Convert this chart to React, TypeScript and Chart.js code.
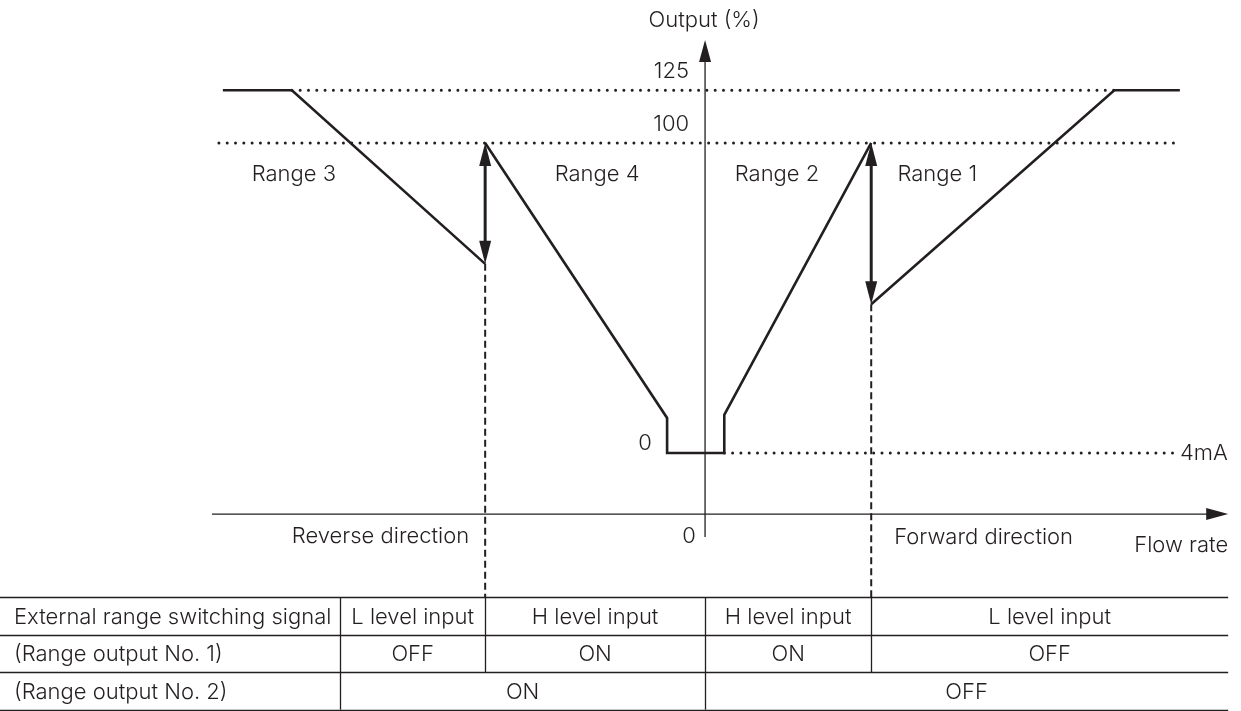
import React, { useEffect, useRef } from "react";
import { Chart, registerables } from "chart.js";

Chart.register(...registerables);

// ---- data (flow rate in schematic units, output in schematic %) ----
const range3Flow = [-97.8, -83.8, -44.6];
const range3Output = [117, 117, 61];
const range42Flow = [-44.6, -7.7, -7.7, 3.9, 3.9, 33.7];
const range42Output = [100, 11.3, 0, 0, 12.3, 100];
const range1Flow = [33.7, 83.0, 96.3];
const range1Output = [48, 117, 117];

// dotted reference levels (drawn positions) and their tick labels
const levelOutput = [117, 100, 0];
const levelTickLabels = ["125", "100", "0"];
const levelStartFlow = [-83.8, -98.6, 3.9];
const levelEndFlow = [83.0, 95.7, 95.7];

// range switching points
const switchFlow = [-44.6, 33.7];
const switchLowOutput = [61, 48];
const switchHighOutput = [100, 100];
const tableTopOutput = -46.5;

const rangeNames = ["Range 3", "Range 4", "Range 2", "Range 1"];
const rangeNameFlow = [-83.4, -21.9, 14.6, 47.1];
const rangeNameOutput = 90;

// table
const tableRowLabels = [
  "External range switching signal",
  "(Range output No. 1)",
  "(Range output No. 2)",
];
const switchSignal = ["L level input", "H level input", "H level input", "L level input"];
const rangeOutputNo1 = ["OFF", "ON", "ON", "OFF"];
const rangeOutputNo2 = ["ON", "OFF"];
const colBoundsFlow = [-74.0, -44.6, 0, 33.7, 106.1];
const row3BoundsFlow = [-74.0, 0, 106.1];

const INK = "#231f20";
const FONT = '300 22px Inter, "Liberation Sans", Arial, sans-serif';

function arrowHead(ctx: CanvasRenderingContext2D, tx: number, ty: number, dx: number, dy: number, len: number, hw: number) {
  const bx = tx - dx * len;
  const by = ty - dy * len;
  const px = -dy;
  const py = dx;
  ctx.beginPath();
  ctx.moveTo(tx, ty);
  ctx.lineTo(bx + px * hw, by + py * hw);
  ctx.lineTo(bx - px * hw, by - py * hw);
  ctx.closePath();
  ctx.fill();
}

const toPts = (xs: number[], ys: number[]) => xs.map((x, i) => ({ x, y: ys[i] }));

export default function App() {
  const ref = useRef<HTMLCanvasElement>(null);

  useEffect(() => {
    document.body.style.margin = "0";
    const canvas = ref.current!;

    const diagram = {
      id: "diagram",
      beforeDatasetsDraw(chart: any) {
        const ctx: CanvasRenderingContext2D = chart.ctx;
        const xs = chart.scales.x;
        const ys = chart.scales.y;
        ctx.save();
        ctx.strokeStyle = INK;
        ctx.fillStyle = INK;
        ctx.lineWidth = 1.3;
        // x axis
        const axY = ys.getPixelForValue(-19.7);
        const axL = xs.getPixelForValue(-100);
        const axR = xs.getPixelForValue(106.1);
        ctx.beginPath();
        ctx.moveTo(axL, axY);
        ctx.lineTo(axR - 10, axY);
        ctx.stroke();
        arrowHead(ctx, axR, axY, 1, 0, 22, 6);
        // y axis
        const x0 = xs.getPixelForValue(0);
        const yTop = ys.getPixelForValue(133.2);
        const yBot = ys.getPixelForValue(-27.1);
        ctx.beginPath();
        ctx.moveTo(x0, yBot);
        ctx.lineTo(x0, yTop + 10);
        ctx.stroke();
        arrowHead(ctx, x0, yTop, 0, -1, 22, 6);
        ctx.restore();
      },
      afterDatasetsDraw(chart: any) {
        const ctx: CanvasRenderingContext2D = chart.ctx;
        const xs = chart.scales.x;
        const ys = chart.scales.y;
        const X = (v: number) => xs.getPixelForValue(v);
        const Y = (v: number) => ys.getPixelForValue(v);
        ctx.save();
        ctx.strokeStyle = INK;
        ctx.fillStyle = INK;

        // double arrows at switching points
        ctx.lineWidth = 3;
        switchFlow.forEach((f, i) => {
          const x = X(f);
          const yt = Y(switchHighOutput[i]);
          const yb = Y(switchLowOutput[i]);
          ctx.beginPath();
          ctx.moveTo(x, yt + 15);
          ctx.lineTo(x, yb - 15);
          ctx.stroke();
          arrowHead(ctx, x, yt, 0, -1, 23, 6);
          arrowHead(ctx, x, yb, 0, 1, 23, 6);
        });

        // texts
        ctx.font = FONT;
        ctx.textBaseline = "middle";
        const x0 = X(0);
        ctx.textAlign = "center";
        ctx.fillText("Output (%)", x0 - 1, 20);
        ctx.textAlign = "right";
        ctx.fillText(levelTickLabels[0], x0 - 16, Y(levelOutput[0]) - 19);
        ctx.fillText(levelTickLabels[1], x0 - 16, Y(levelOutput[1]) - 19);
        ctx.textAlign = "center";
        ctx.fillText(levelTickLabels[2], x0 - 60, Y(levelOutput[2]) - 10);
        ctx.fillText("0", x0 - 16, Y(-19.7) + 22);
        rangeNames.forEach((n, i) => ctx.fillText(n, X(rangeNameFlow[i]), Y(rangeNameOutput)));
        ctx.textAlign = "left";
        ctx.fillText("4mA", X(levelEndFlow[2]) + 3, Y(levelOutput[2]));
        ctx.textAlign = "right";
        ctx.fillText("Reverse direction", X(switchFlow[0]) - 16, Y(-19.7) + 22);
        ctx.textAlign = "left";
        ctx.fillText("Forward direction", X(switchFlow[1]) + 23, Y(-19.7) + 23);
        ctx.textAlign = "right";
        ctx.fillText("Flow rate", X(106.1), Y(-19.7) + 31);

        // table
        const top = Y(tableTopOutput);
        const rowH = 37.5;
        const left = 0;
        const right = X(colBoundsFlow[colBoundsFlow.length - 1]);
        ctx.lineWidth = 1.3;
        for (let r = 0; r <= 3; r++) {
          const y = Math.round(top + r * rowH) + 0.5;
          ctx.beginPath();
          ctx.moveTo(left, y);
          ctx.lineTo(right, y);
          ctx.stroke();
        }
        const vline = (x: number, r0: number, r1: number) => {
          ctx.beginPath();
          ctx.moveTo(Math.round(x) + 0.5, top + r0 * rowH);
          ctx.lineTo(Math.round(x) + 0.5, top + r1 * rowH);
          ctx.stroke();
        };
        for (let c = 0; c < colBoundsFlow.length - 1; c++) vline(X(colBoundsFlow[c]), 0, 2);
        for (let c = 0; c < row3BoundsFlow.length - 1; c++) vline(X(row3BoundsFlow[c]), 2, 3);

        ctx.textAlign = "left";
        tableRowLabels.forEach((t, r) => ctx.fillText(t, 14, top + (r + 0.5) * rowH + 1));
        ctx.textAlign = "center";
        for (let c = 0; c < switchSignal.length; c++) {
          const cx = (X(colBoundsFlow[c]) + X(colBoundsFlow[c + 1])) / 2;
          ctx.fillText(switchSignal[c], cx, top + 0.5 * rowH + 1);
          ctx.fillText(rangeOutputNo1[c], cx, top + 1.5 * rowH + 1);
        }
        for (let c = 0; c < rangeOutputNo2.length; c++) {
          const cx = (X(row3BoundsFlow[c]) + X(row3BoundsFlow[c + 1])) / 2;
          ctx.fillText(rangeOutputNo2[c], cx, top + 2.5 * rowH + 1);
        }
        ctx.restore();
      },
    };

    const solid = { showLine: true, borderColor: INK, borderWidth: 2.6, pointRadius: 0, tension: 0, fill: false, borderJoinStyle: "miter" as const };
    const dotted = { showLine: true, borderColor: INK, borderWidth: 3, pointRadius: 0, borderDash: [0, 8.3], borderCapStyle: "round" as const, fill: false };
    const dashed = { showLine: true, borderColor: INK, borderWidth: 2, pointRadius: 0, borderDash: [7, 4], fill: false };

    const datasets: any[] = [];
    levelOutput.forEach((lv, i) => {
      datasets.push({ ...dotted, data: [{ x: levelStartFlow[i], y: lv }, { x: levelEndFlow[i], y: lv }] });
    });
    switchFlow.forEach((f, i) => {
      datasets.push({ ...dashed, data: [{ x: f, y: switchLowOutput[i] }, { x: f, y: tableTopOutput }] });
    });
    datasets.push({ ...solid, data: toPts(range3Flow, range3Output) });
    datasets.push({ ...solid, data: toPts(range42Flow, range42Output) });
    datasets.push({ ...solid, data: toPts(range1Flow, range1Output) });

    const chart = new Chart(canvas, {
      type: "scatter",
      data: { datasets },
      options: {
        animation: false,
        responsive: false,
        devicePixelRatio: 1,
        events: [],
        layout: { padding: 0 },
        plugins: { legend: { display: false }, tooltip: { enabled: false } },
        scales: {
          x: { type: "linear", display: false, min: -143, max: 108.7 },
          y: { type: "linear", display: false, min: -83.2, max: 146.1 },
        },
      },
      plugins: [diagram],
    });
    return () => chart.destroy();
  }, []);

  return (
    <div style={{ position: "absolute", left: 0, top: 0, width: 1241, height: 711, background: "#fff" }}>
      <canvas ref={ref} width={1241} height={711} style={{ display: "block" }} />
    </div>
  );
}
